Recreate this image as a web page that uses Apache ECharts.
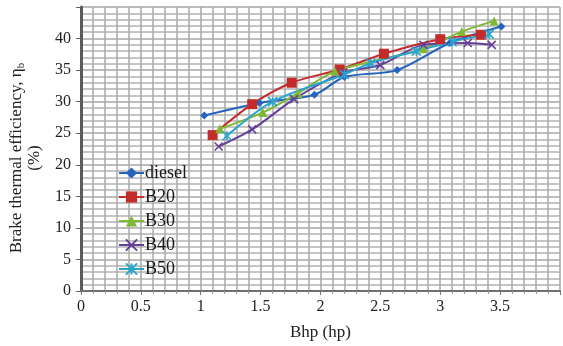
<!DOCTYPE html>
<html>
<head>
<meta charset="utf-8">
<script src="https://cdn.jsdelivr.net/npm/echarts@6/dist/echarts.min.js"></script>
<style>
  html, body { margin: 0; padding: 0; background: #fff; }
  #chart { width: 563px; height: 346px; }
</style>
</head>
<body>
<div id="chart"></div>
<script>
// ============ data ============
const seriesNames = ['diesel', 'B20', 'B30', 'B40', 'B50']
const xTicks = [0, 0.5, 1, 1.5, 2, 2.5, 3, 3.5]
const yTicks = [0, 5, 10, 15, 20, 25, 30, 35, 40]

const diesel = [[1.03, 27.8], [1.49, 29.8], [1.95, 31.1], [2.2, 33.9], [2.64, 35.0], [3.08, 39.3], [3.51, 41.9]]
const b20 = [[1.1, 24.7], [1.43, 29.6], [1.76, 33.0], [2.16, 35.1], [2.53, 37.6], [3.0, 39.9], [3.34, 40.6]]
const b30 = [[1.16, 25.7], [1.52, 28.3], [1.81, 31.3], [2.12, 34.8], [2.86, 38.4], [3.18, 41.1], [3.45, 42.8]]
const b40 = [[1.15, 22.9], [1.43, 25.6], [1.78, 30.4], [2.19, 34.6], [2.5, 35.8], [2.86, 39.0], [3.23, 39.3], [3.43, 39.0]]
const b50 = [[1.22, 24.6], [1.6, 30.0], [2.2, 34.3], [2.42, 36.1], [2.8, 38.0], [3.1, 39.5], [3.41, 40.7]]

const colors = ['#2464bd', '#c42b2b', '#7fb833', '#653f98', '#2aa6cc']

const serif = 'Liberation Serif'
const chart = echarts.init(document.getElementById('chart'), null, { renderer: 'canvas' })

// 叉号 / 星号 标记用路径描边画
const xPath = 'path://M0,0L10,10M10,0L0,10'
const starPath = 'path://M0,0L10,10M10,0L0,10M5,0L5,10'

const mk = (name, data, color, symbol, size, stroke) => ({
  name,
  type: 'line',
  data,
  smooth: 0.3,
  symbol,
  symbolSize: size,
  lineStyle: { color, width: 2 },
  itemStyle: stroke
    ? { color: 'transparent', borderColor: color, borderWidth: 1.6 }
    : { color, borderColor: color, borderWidth: 0 },
  z: 3
})

chart.setOption({
  animation: false,
  backgroundColor: '#fff',
  textStyle: { fontFamily: serif },
  grid: { left: 78, top: 7, width: 500, height: 290, containLabel: false },
  legend: {
    orient: 'vertical',
    left: 113,
    top: 159,
    padding: 5,
    itemWidth: 25,
    itemHeight: 14,
    itemGap: 6,
    textStyle: { fontFamily: serif, fontSize: 18, color: '#1a1a1a', padding: [0, 0, 0, -4] },
    data: seriesNames
  },
  xAxis: {
    type: 'value',
    min: 0,
    max: 4,
    interval: 0.5,
    name: 'Bhp (hp)',
    nameLocation: 'middle',
    nameGap: 33,
    nameTextStyle: { fontFamily: serif, fontSize: 17, color: '#222' },
    axisLine: { show: true, onZero: false, lineStyle: { color: '#6f6f6f', width: 2 } },
    axisTick: { show: true, length: 4, lineStyle: { color: '#777' } },
    minorTick: { show: true, splitNumber: 5, length: 3, lineStyle: { color: '#999' } },
    axisLabel: {
      fontFamily: serif, fontSize: 16, color: '#222', margin: 8,
      formatter: (v) => (xTicks.includes(v) ? String(v) : '')
    },
    splitLine: { show: true, lineStyle: { color: '#a6a6a6', width: 1.5 } },
    minorSplitLine: { show: true, lineStyle: { color: '#ababab', width: 1.5 } }
  },
  yAxis: {
    type: 'value',
    min: 0,
    max: 45,
    interval: 5,
    name: 'Brake thermal efficiency, η{sub|b}\n(%)',
    nameLocation: 'middle',
    nameRotate: 90,
    nameGap: 32,
    nameTextStyle: {
      fontFamily: serif, fontSize: 17, color: '#222', lineHeight: 18,
      padding: [0, 18, 0, 0],
      rich: { sub: { fontFamily: serif, fontSize: 11, padding: [9, 0, 0, 0] } }
    },
    axisLine: { show: true, lineStyle: { color: '#5a5a5a', width: 3 } },
    axisTick: { show: true, length: 5, lineStyle: { color: '#666' } },
    axisLabel: {
      fontFamily: serif, fontSize: 16, color: '#222', margin: 10,
      formatter: (v) => (yTicks.includes(v) ? String(v) : '')
    },
    splitLine: { show: true, lineStyle: { color: '#a6a6a6', width: 1.5 } },
    minorSplitLine: { show: true, lineStyle: { color: '#b2b2b2', width: 1.5 } },
    minorTick: { show: false, splitNumber: 5 }
  },
  series: [
    mk('diesel', diesel, colors[0], 'diamond', 8, false),
    mk('B20', b20, colors[1], 'rect', 10, false),
    mk('B30', b30, colors[2], 'triangle', 9, false),
    mk('B40', b40, colors[3], xPath, 8, true),
    mk('B50', b50, colors[4], starPath, 9, true)
  ]
})
</script>
</body>
</html>
